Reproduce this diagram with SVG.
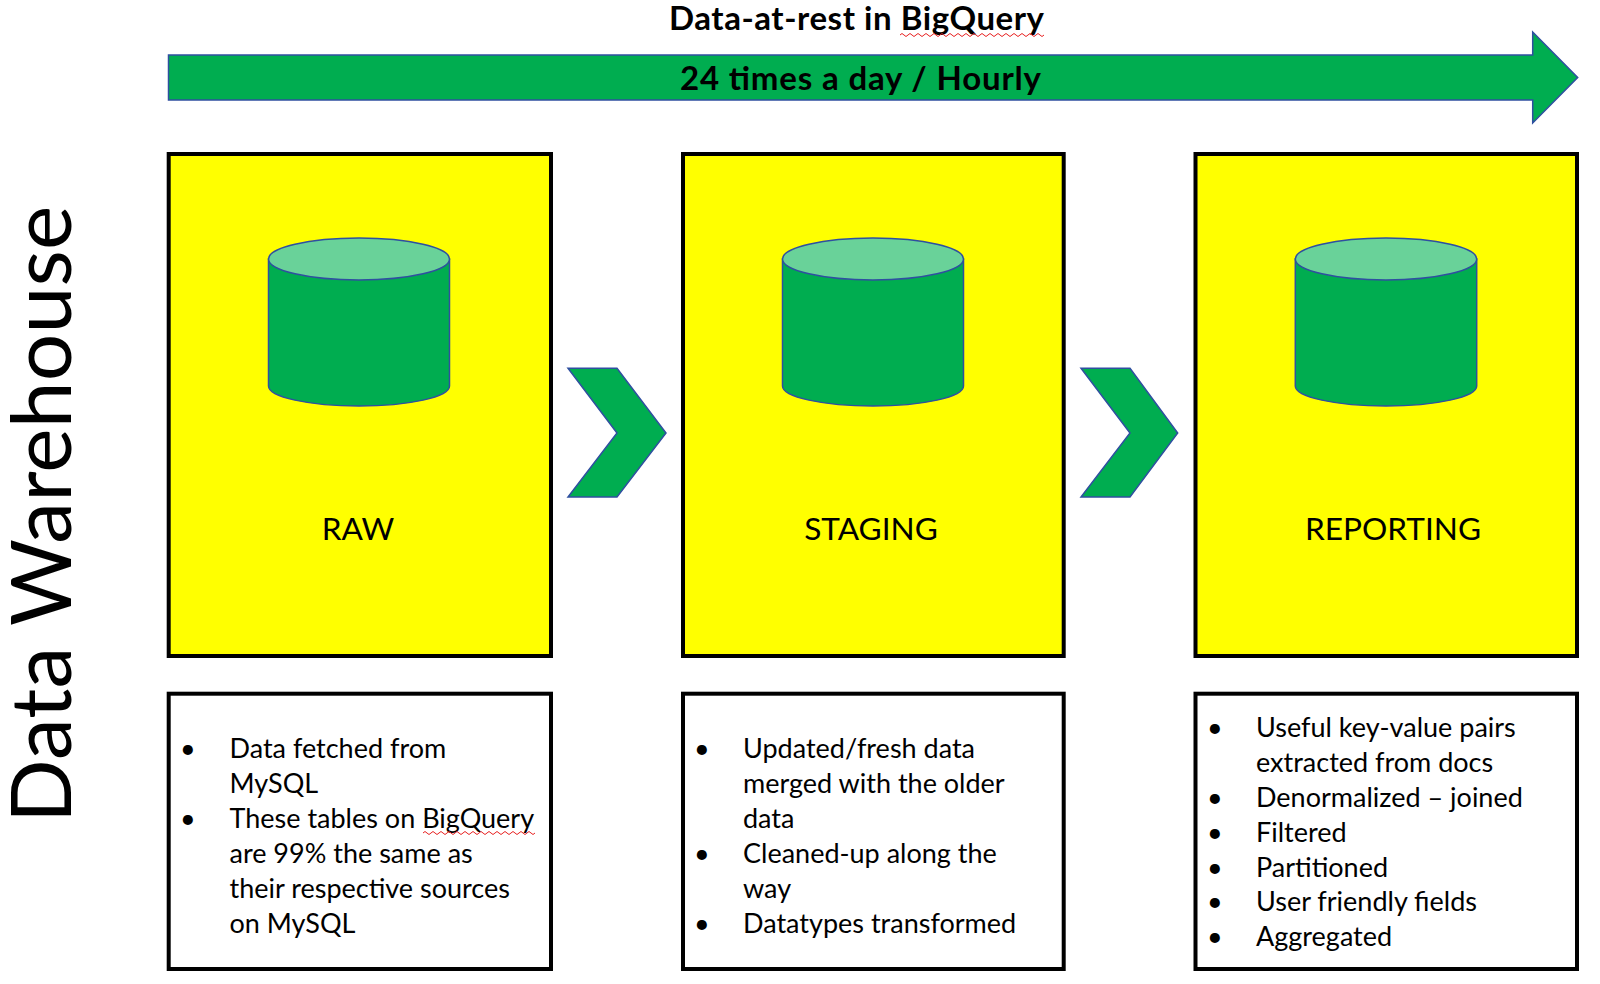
<svg xmlns="http://www.w3.org/2000/svg" width="1600" height="984" viewBox="0 0 1600 984">
<style>
.g{fill:#00ad50;stroke:#2f4fa0;stroke-width:1.5}
.t{fill:#69d299;stroke:#2f4fa0;stroke-width:1.5}
.y{fill:#ffff00;stroke:#000;stroke-width:4}
.w{fill:#fff;stroke:#000;stroke-width:4}
text{font-family:Lato,"Liberation Sans",sans-serif;fill:#000}
.b{font-size:27px}
.h{font-size:33px;font-weight:700}
.l{font-size:31.6px}
.s{fill:none;stroke:#e82020;stroke-width:1}
</style>
<rect width="1600" height="984" fill="#fff"/>
<g id="timeline">
<text class="h" x="669" y="30" textLength="375">Data-at-rest in BigQuery</text>
<path class="s" d="M900 35q2-3 4 0t4 0 4 0 4 0 4 0 4 0 4 0 4 0 4 0 4 0 4 0 4 0 4 0 4 0 4 0 4 0 4 0 4 0 4 0 4 0 4 0 4 0 4 0 4 0 4 0 4 0 4 0 4 0 4 0 4 0 4 0 4 0 4 0 4 0 4 0 4 0"/>
<path class="g" d="M168.500 55H1532.700V32L1577.700 77.500 1532.700 123V100H168.500Z"/>
<text class="h" x="680" y="90" textLength="361">24 times a day / Hourly</text>
</g>
<g id="side-label"><text transform="translate(71 823) rotate(-90)" font-size="84" letter-spacing="0.15">Data Warehouse</text></g>
<g id="raw">
<rect class="y" x="168.700" y="154" width="382.300" height="502"/>
<path class="g" d="M268.500 259V386A90.500 20 0 0 0 449.500 386V259Z"/>
<ellipse class="t" cx="359" cy="259" rx="90.500" ry="21"/>
<text class="l" x="358" y="539.500" text-anchor="middle">RAW</text>
</g>
<g id="staging">
<rect class="y" x="683" y="154" width="380.700" height="502"/>
<path class="g" d="M782.500 259V386A90.500 20 0 0 0 963.500 386V259Z"/>
<ellipse class="t" cx="873" cy="259" rx="90.500" ry="21"/>
<text class="l" x="871" y="539.500" text-anchor="middle">STAGING</text>
</g>
<g id="reporting">
<rect class="y" x="1195.500" y="154" width="381.500" height="502"/>
<path class="g" d="M1295.300 259V386A90.700 20 0 0 0 1476.700 386V259Z"/>
<ellipse class="t" cx="1386" cy="259" rx="90.700" ry="21"/>
<text class="l" x="1393" y="539.500" text-anchor="middle">REPORTING</text>
</g>
<g id="connectors">
<path class="g" d="M568 368.300H617L666 433 617 497H568L617 433Z"/>
<path class="g" d="M1081 368.300H1130L1177.700 433 1130 497H1081L1130 433Z"/>
</g>
<g id="raw-notes">
<rect class="w" x="168.700" y="693.700" width="382.300" height="275.300"/>
<g class="b"><text x="180" y="758">•</text><text x="229.500" y="758">Data fetched from</text><text x="229.500" y="793">MySQL</text><text x="180" y="828">•</text><text x="229.500" y="828">These tables on BigQuery</text><text x="229.500" y="863">are 99% the same as</text><text x="229.500" y="898">their respective sources</text><text x="229.500" y="933">on MySQL</text></g>
<path class="s" d="M423 833q2-3 4 0t4 0 4 0 4 0 4 0 4 0 4 0 4 0 4 0 4 0 4 0 4 0 4 0 4 0 4 0 4 0 4 0 4 0 4 0 4 0 4 0 4 0 4 0 4 0 4 0 4 0 4 0 4 0"/>
</g>
<g id="staging-notes">
<rect class="w" x="683" y="693.700" width="380.700" height="275.300"/>
<g class="b"><text x="694" y="758">•</text><text x="743" y="758">Updated/fresh data</text><text x="743" y="793">merged with the older</text><text x="743" y="828">data</text><text x="694" y="863">•</text><text x="743" y="863">Cleaned-up along the</text><text x="743" y="898">way</text><text x="694" y="933">•</text><text x="743" y="933">Datatypes transformed</text></g>
</g>
<g id="reporting-notes">
<rect class="w" x="1195.500" y="693.700" width="381.500" height="275.300"/>
<g class="b"><text x="1207" y="737">•</text><text x="1256" y="737">Useful key-value pairs</text><text x="1256" y="772">extracted from docs</text><text x="1207" y="806.500">•</text><text x="1256" y="806.500">Denormalized – joined</text><text x="1207" y="841.500">•</text><text x="1256" y="841.500">Filtered</text><text x="1207" y="876.500">•</text><text x="1256" y="876.500">Partitioned</text><text x="1207" y="911">•</text><text x="1256" y="911">User friendly fields</text><text x="1207" y="946">•</text><text x="1256" y="946">Aggregated</text></g>
</g>
</svg>
